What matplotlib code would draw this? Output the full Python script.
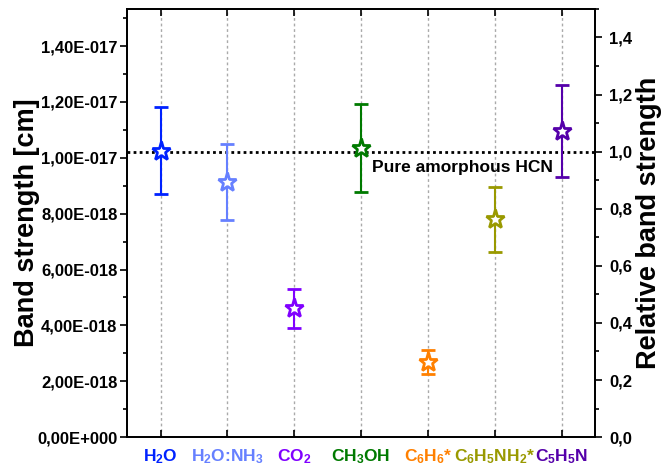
import matplotlib
matplotlib.use('Agg')
import matplotlib.pyplot as plt
from matplotlib.ticker import FuncFormatter, MultipleLocator
import numpy as np

plt.rcParams['font.family'] = 'Liberation Sans'
plt.rcParams['font.weight'] = 'bold'
plt.rcParams['mathtext.fontset'] = 'custom'
plt.rcParams['mathtext.rm'] = 'Liberation Sans:bold'
plt.rcParams['mathtext.bf'] = 'Liberation Sans:bold'
plt.rcParams['mathtext.it'] = 'Liberation Sans:bold'

# data, band strength in cm
labels = [r'H$_2$O', r'H$_2$O:NH$_3$', r'CO$_2$', r'CH$_3$OH',
          r'C$_6$H$_6$*', r'C$_6$H$_5$NH$_2$*', r'C$_5$H$_5$N']
values = [1.025e-17, 0.915e-17, 0.462e-17, 1.035e-17, 0.268e-17, 0.780e-17, 1.095e-17]
errors = [0.155e-17, 0.136e-17, 0.070e-17, 0.157e-17, 0.043e-17, 0.117e-17, 0.165e-17]
colors = ['#0022ff', '#6680ff', '#8000ff', '#007a00', '#ff8000', '#999900', '#5500aa']
hcn = 1.022e-17
ymax = 1.533e-17

fig = plt.figure(figsize=(6.62, 4.68), dpi=100)
ax = fig.add_axes([0.192, 0.066, 0.707, 0.915])
x = np.arange(len(values))

for i in range(len(values)):
    ax.errorbar(x[i], values[i], yerr=errors[i], fmt='*', color=colors[i],
                markersize=14, markerfacecolor='white', markeredgewidth=2,
                capsize=5, elinewidth=1.5, capthick=1.5, zorder=3)

ax.axhline(hcn, color='black', linestyle=(0, (1, 1.2)), linewidth=2, zorder=2)
ax.text(3.17, hcn - 0.03e-17, 'Pure amorphous HCN', fontsize=12.5,
        fontweight='bold', va='top', ha='left')

ax.set_xlim(-0.5, 6.5)
ax.set_ylim(0, ymax)
ax.set_xticks(x)
ax.set_xticklabels(labels, fontsize=12.5)
for t, c in zip(ax.get_xticklabels(), colors):
    t.set_color(c)
ax.grid(axis='x', color='#aaaaaa', linestyle=(0, (2, 2)), linewidth=1)
ax.tick_params(axis='x', direction='in', top=True, length=5, width=1.2, pad=7)

def sci_fmt(v, pos):
    if v == 0:
        return '0,00E+000'
    e = int(np.floor(np.log10(abs(v)) + 1e-9))
    m = v / 10 ** e
    return ('%.2f' % m).replace('.', ',') + 'E%s%03d' % ('-' if e < 0 else '+', abs(e))

ax.yaxis.set_major_locator(MultipleLocator(2e-18))
ax.yaxis.set_minor_locator(MultipleLocator(1e-18))
ax.yaxis.set_major_formatter(FuncFormatter(sci_fmt))
ax.tick_params(axis='y', which='major', direction='out', length=5, width=1.2, labelsize=12, pad=2)
ax.tick_params(axis='y', which='minor', direction='out', length=3, width=1.2)
ax.set_ylabel('Band strength [cm]', fontsize=19.5, fontweight='bold', labelpad=-2)

ax2 = ax.twinx()
ax2.set_ylim(0, ymax / hcn)
ax2.yaxis.set_major_locator(MultipleLocator(0.2))
ax2.yaxis.set_minor_locator(MultipleLocator(0.1))
ax2.yaxis.set_major_formatter(FuncFormatter(lambda v, p: ('%.1f' % v).replace('.', ',')))
ax2.tick_params(axis='y', which='major', direction='out', length=5, width=1.2, labelsize=12, pad=5)
ax2.tick_params(axis='y', which='minor', direction='out', length=3, width=1.2)
ax2.set_ylabel('Relative band strength', fontsize=19.5, fontweight='bold', labelpad=3)

for a in (ax, ax2):
    for s in a.spines.values():
        s.set_linewidth(1.3)

fig.savefig('out.png', dpi=100)
